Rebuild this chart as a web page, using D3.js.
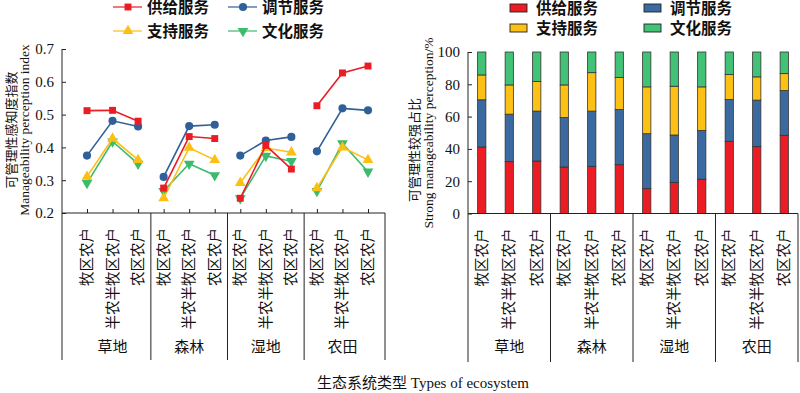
<!DOCTYPE html>
<html><head><meta charset="utf-8">
<script src="https://cdn.jsdelivr.net/npm/d3@7"></script>
<style>body{margin:0;background:#fff}svg{display:block}</style>
</head><body><svg id="c" width="800" height="393"></svg>
<script>
const ecosystems = ["草地","森林","湿地","农田"];
const farmers = ["牧区农户","半农半牧区农户","农区农户"];
const seriesNames = ["供给服务","调节服务","支持服务","文化服务"];
const colors = ["#ec1c24","#30609a","#fdbf12","#3dbb6c"];
const barColors = ["#ec1c24","#3a6aa0","#fdc014","#42c276"];
// Manageability perception index (12 points: ecosystem × farmer type)
const supplyIdx     = [0.512,0.513,0.480, 0.276,0.433,0.427, 0.245,0.406,0.334, 0.527,0.627,0.648];
const regulatingIdx = [0.375,0.481,0.464, 0.310,0.465,0.469, 0.375,0.421,0.432, 0.388,0.519,0.513];
const supportingIdx = [0.311,0.427,0.362, 0.245,0.399,0.362, 0.292,0.398,0.385, 0.276,0.400,0.362];
const culturalIdx   = [0.291,0.418,0.350, 0.267,0.350,0.315, 0.245,0.374,0.358, 0.267,0.412,0.326];
// Strong manageability perception share (%)
const supplyPct     = [41.2,32.1,32.5, 28.8,29.2,30.2, 15.4,19.3,21.2, 44.7,41.4,48.4];
const regulatingPct = [29.2,29.4,30.9, 30.7,34.2,34.2, 34.0,29.3,30.2, 25.9,28.8,27.7];
const supportingPct = [15.4,18.1,18.3, 20.1,23.8,19.8, 29.0,30.2,27.0, 15.4,14.4,10.5];
const culturalPct   = [14.2,20.4,18.3, 20.4,12.8,15.8, 21.6,21.2,21.6, 14.0,15.4,13.4];
const yTicksLeft = [0.2,0.3,0.4,0.5,0.6,0.7];
const yTicksRight = [0,20,40,60,80,100];

const svg = d3.select("#c");
const CJK = "'Liberation Serif','Noto Sans CJK SC',serif";
const cats = [];
ecosystems.forEach((e,i)=>farmers.forEach((f,j)=>cats.push({id:i*3+j,eco:e,far:f})));
const ids = cats.map(d=>d.id);

// ===== LEFT CHART =====
const L = {x0:62, x1:385, yTop:49, yBot:213, ext:360};
const xL = d3.scalePoint().domain(ids).range([87,368]);
const yL = d3.scaleLinear().domain([0.2,0.7]).range([L.yBot,L.yTop]);
const gL = svg.append("g");

gL.append("g").attr("transform",`translate(${L.x0},0)`)
  .call(d3.axisLeft(yL).tickValues(yTicksLeft).tickFormat(d3.format(".1f")).tickSizeInner(-4).tickSizeOuter(0).tickPadding(8))
  .call(g=>{g.select(".domain").remove();g.selectAll("text").attr("font-family",CJK).attr("font-size",15).attr("fill","#111");g.selectAll("line").attr("stroke","#222");});
gL.append("line").attr("x1",L.x0).attr("x2",L.x0).attr("y1",L.yTop).attr("y2",L.ext).attr("stroke","#222");
gL.append("g").attr("transform",`translate(0,${L.yBot})`)
  .call(d3.axisBottom(xL).tickSizeInner(-4).tickSizeOuter(0).tickFormat(""))
  .call(g=>{g.select(".domain").remove();g.selectAll("line").attr("stroke","#222");});
gL.append("line").attr("x1",L.x0).attr("x2",L.x1).attr("y1",L.yBot).attr("y2",L.yBot).attr("stroke","#222");

const stepL = xL.step();
[2,5,8,11].forEach(k=>{
  const x = k===11 ? L.x1 : xL(k)+stepL/2;
  gL.append("line").attr("x1",x).attr("x2",x).attr("y1",L.yBot).attr("y2",L.ext).attr("stroke","#222");
});

const idxSeries = [supplyIdx,regulatingIdx,supportingIdx,culturalIdx];
const sym = [d3.symbolSquare,d3.symbolCircle,d3.symbolTriangle,d3.symbolTriangle];
const symSize = [48,52,50,50];
function drawSeriesOrder(si){
  const vals = idxSeries[si];
  for(let g=0;g<4;g++){
    const seg = vals.slice(g*3,g*3+3).map((v,j)=>({v,i:g*3+j}));
    gL.append("path").datum(seg).attr("fill","none").attr("stroke",colors[si]).attr("stroke-width",1.6)
      .attr("d",d3.line().x(d=>xL(d.i)).y(d=>yL(d.v)));
  }
  gL.selectAll(null).data(vals).join("path")
    .attr("transform",(d,i)=>`translate(${xL(i)},${yL(d)})${si===3?" rotate(180)":""}`)
    .attr("d",d3.symbol(sym[si],symSize[si])).attr("fill",colors[si]);
}
[3,2,1,0].forEach(drawSeriesOrder);

function catLabels(g, xs, bot){
  cats.forEach((c,i)=>{
    g.append("text").attr("transform",`translate(${xs(i)+5},${bot+15}) rotate(-90)`)
      .attr("text-anchor","end").attr("font-family",CJK).attr("font-size",14.5).attr("fill","#111").text(c.far);
  });
  ecosystems.forEach((e,k)=>{
    g.append("text").attr("x",xs(k*3+1)).attr("y",352).attr("text-anchor","middle")
      .attr("font-family",CJK).attr("font-size",15).attr("fill","#111").text(e);
  });
}
catLabels(gL, i=>xL(i), L.yBot);

gL.append("text").attr("transform",`translate(16,130) rotate(-90)`).attr("text-anchor","middle")
  .attr("font-family",CJK).attr("font-size",13).attr("fill","#111").text("可管理性感知度指数");
gL.append("text").attr("transform",`translate(29,130) rotate(-90)`).attr("text-anchor","middle")
  .attr("font-family",CJK).attr("font-size",13.5).attr("fill","#111").text("Manageability perception index");

// left legend
const legPos = [[113,7],[228,7],[113,31],[228,31]];
seriesNames.forEach((n,si)=>{
  const [lx,ly]=legPos[si];
  const lg = gL.append("g");
  lg.append("line").attr("x1",lx).attr("x2",lx+29).attr("y1",ly).attr("y2",ly).attr("stroke",colors[si]).attr("stroke-width",1.6).attr("opacity",0.75);
  lg.append("path").attr("transform",`translate(${lx+15},${ly})${si===3?" rotate(180)":""}`).attr("d",d3.symbol(sym[si],symSize[si])).attr("fill",colors[si]);
  lg.append("text").attr("x",lx+34).attr("y",ly+5.5).attr("font-family",CJK).attr("font-size",15.5).attr("font-weight","bold").attr("fill","#111").text(n);
});

// ===== RIGHT CHART =====
const R = {x0:468, x1:798, yTop:52, yBot:213.5, ext:362};
const xR = d3.scaleBand().domain(ids).range([R.x0,R.x1]).paddingInner(0.7).paddingOuter(0.35);
const yR = d3.scaleLinear().domain([0,100]).range([R.yBot,R.yTop]);
const gR = svg.append("g");
const pctSeries = [supplyPct,regulatingPct,supportingPct,culturalPct];
const table = ids.map(i=>({id:i,s0:pctSeries[0][i],s1:pctSeries[1][i],s2:pctSeries[2][i],s3:pctSeries[3][i]}));
const stack = d3.stack().keys(["s0","s1","s2","s3"])(table);
stack.forEach((layer,si)=>{
  gR.selectAll(null).data(layer).join("rect")
    .attr("x",d=>xR(d.data.id)).attr("width",xR.bandwidth())
    .attr("y",d=>yR(Math.min(d[1],100))).attr("height",d=>yR(d[0])-yR(Math.min(d[1],100)))
    .attr("fill",barColors[si]).attr("stroke","#333").attr("stroke-width",0.8);
});
gR.append("g").attr("transform",`translate(${R.x0},0)`)
  .call(d3.axisLeft(yR).tickValues(yTicksRight).tickSizeInner(-4).tickSizeOuter(0).tickPadding(8))
  .call(g=>{g.select(".domain").remove();g.selectAll("text").attr("font-family",CJK).attr("font-size",15).attr("fill","#111");g.selectAll("line").attr("stroke","#222");});
gR.append("line").attr("x1",R.x0).attr("x2",R.x0).attr("y1",R.yTop).attr("y2",R.ext).attr("stroke","#222");
gR.append("line").attr("x1",R.x0).attr("x2",R.x1).attr("y1",R.yBot).attr("y2",R.yBot).attr("stroke","#222");
const stepR = xR.step();
[2,5,8,11].forEach(k=>{
  const x = k===11 ? R.x1 : xR(k)+xR.bandwidth()/2+stepR/2;
  gR.append("line").attr("x1",x).attr("x2",x).attr("y1",R.yBot).attr("y2",R.ext).attr("stroke","#222");
});
catLabels(gR, i=>xR(i)+xR.bandwidth()/2, R.yBot);

gR.append("text").attr("transform",`translate(419,150) rotate(-90)`).attr("text-anchor","middle")
  .attr("font-family",CJK).attr("font-size",13).attr("fill","#111").text("可管理性较强占比");
gR.append("text").attr("transform",`translate(433,133) rotate(-90)`).attr("text-anchor","middle")
  .attr("font-family",CJK).attr("font-size",13.5).attr("fill","#111").text("Strong manageability perception/%");

const legR = [[510,8],[644,8],[510,28],[644,28]];
seriesNames.forEach((n,si)=>{
  const [lx,ly]=legR[si];
  gR.append("rect").attr("x",lx).attr("y",ly-4).attr("width",17).attr("height",8).attr("fill",barColors[si]).attr("stroke","#222").attr("stroke-width",0.9);
  gR.append("text").attr("x",lx+26).attr("y",ly+5.5).attr("font-family",CJK).attr("font-size",15.5).attr("font-weight","bold").attr("fill","#111").text(n);
});

svg.append("text").attr("x",423).attr("y",388).attr("text-anchor","middle")
  .attr("font-family",CJK).attr("font-size",15).attr("fill","#111").text("生态系统类型 Types of ecosystem");
</script></body></html>
